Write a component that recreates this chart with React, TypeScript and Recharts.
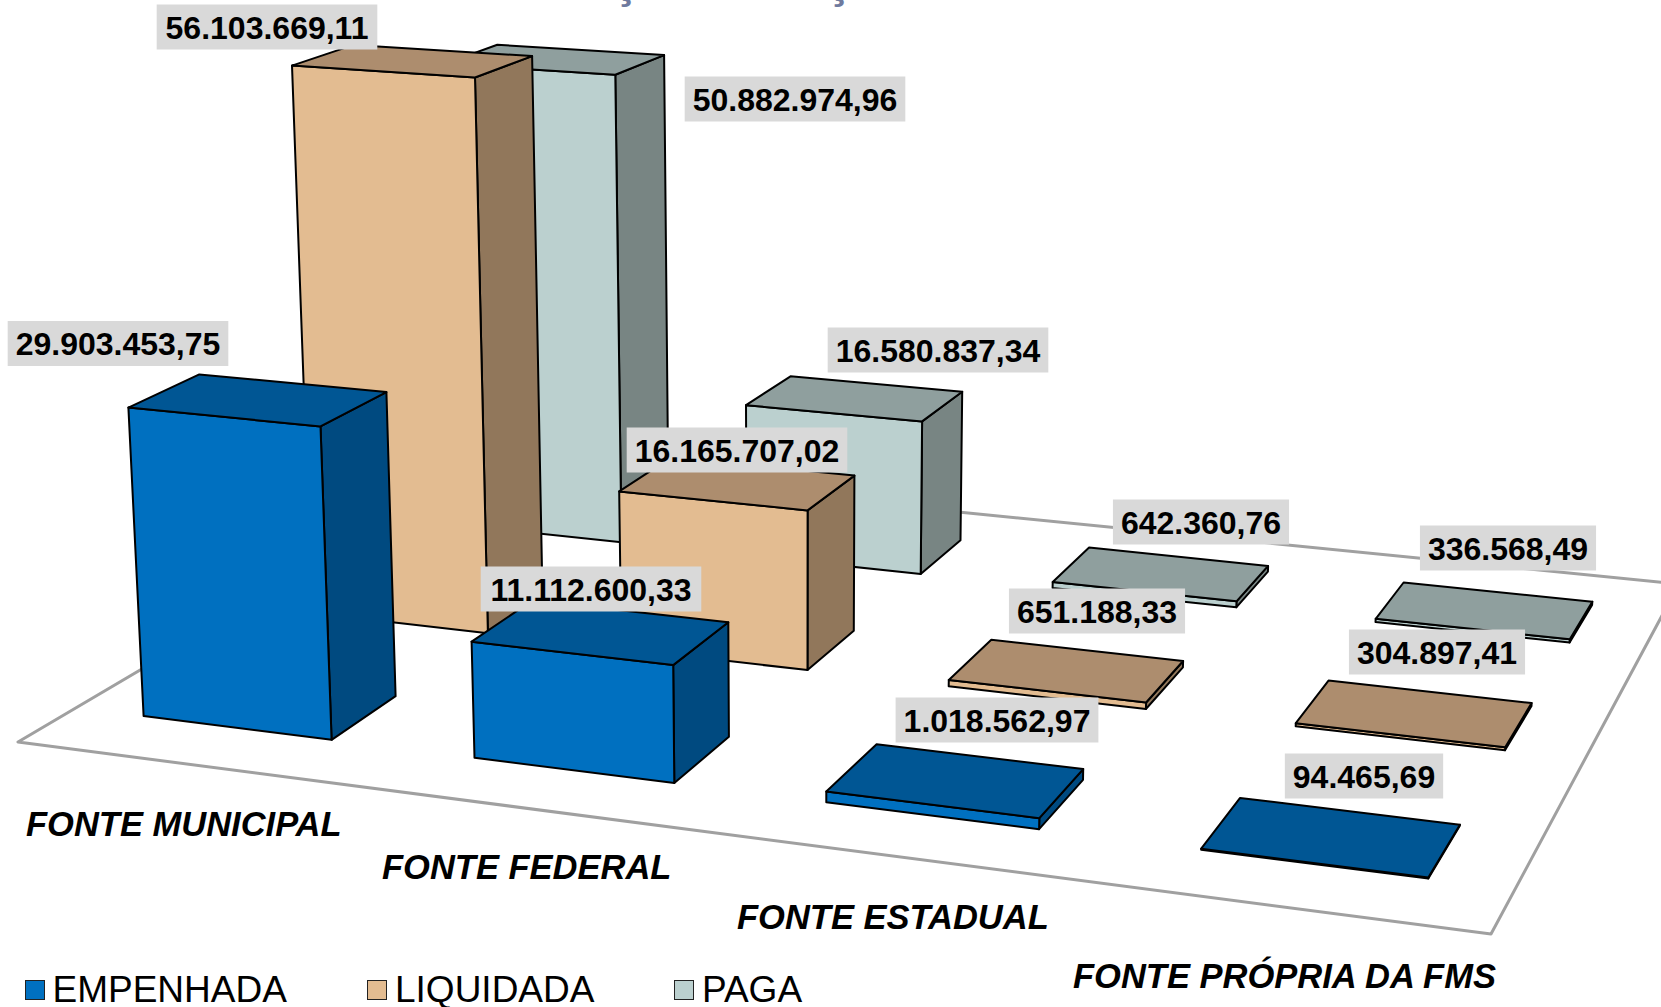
import { BarChart, Bar, XAxis, YAxis, Legend, LabelList, Customized } from "recharts";

const categories = ["FONTE MUNICIPAL", "FONTE FEDERAL", "FONTE ESTADUAL", "FONTE PRÓPRIA DA FMS"];
const empenhada = [29903453.75, 11112600.33, 1018562.97, 94465.69];
const liquidada = [56103669.11, 16165707.02, 651188.33, 304897.41];
const paga = [50882974.96, 16580837.34, 642360.76, 336568.49];

const rows = categories.map((name, i) => ({
  name,
  empenhada: empenhada[i],
  liquidada: liquidada[i],
  paga: paga[i],
}));

const W = 1661;
const H = 1007;
const FONT = "'Liberation Sans', Arial, sans-serif";

// floor corners as they sit on the picture: front-left, front-right, back-right, back-left
const FLOOR = [
  [18, 742],
  [1491, 934],
  [1679, 584],
  [488, 465],
];
// vertical lines converge to this point far below the page
const VANISH = [800, 14000];
const HEIGHT_K = 4.615e-5;
const DEPTH = 0.13;
const U_SHIFT = -0.0004;

function floorMatrix() {
  const [[x0, y0], [x1, y1], [x2, y2], [x3, y3]] = FLOOR;
  const dx1 = x1 - x2;
  const dx2 = x3 - x2;
  const sx = x0 - x1 + x2 - x3;
  const dy1 = y1 - y2;
  const dy2 = y3 - y2;
  const sy = y0 - y1 + y2 - y3;
  const det = dx1 * dy2 - dx2 * dy1;
  const g = (sx * dy2 - dx2 * sy) / det;
  const h = (dx1 * sy - sx * dy1) / det;
  return {
    a: x1 - x0 + g * x1,
    b: x3 - x0 + h * x3,
    c: x0,
    d: y1 - y0 + g * y1,
    e: y3 - y0 + h * y3,
    f: y0,
    g,
    h,
  };
}
const M = floorMatrix();

// u along the categories, v into the depth, z = bar height in px from the value axis
function project(u: number, v: number, z = 0) {
  const t = -z * HEIGHT_K;
  const w = M.g * u + M.h * v + 1 + t;
  const x = (M.a * u + M.b * v + M.c + t * VANISH[0]) / w;
  const y = (M.d * u + M.e * v + M.f + t * VANISH[1]) / w;
  return `${x.toFixed(1)},${y.toFixed(1)}`;
}

const palette = {
  empenhada: { front: "#0070C0", top: "#005694", side: "#004A80" },
  liquidada: { front: "#E3BC91", top: "#AD8D6E", side: "#91775B" },
  paga: { front: "#BBD0CF", top: "#8F9F9E", side: "#788583" },
};

function box(depthIndex: number, colors: { front: string; top: string; side: string }) {
  return (props: any) => {
    const { x, width, height } = props;
    const u0 = x / W + U_SHIFT;
    const u1 = (x + width) / W + U_SHIFT;
    const v0 = (depthIndex + 0.5) / 3 - DEPTH / 2;
    const v1 = v0 + DEPTH;
    const z = height;
    const edge = { stroke: "#000", strokeWidth: 2, strokeLinejoin: "round" as const };
    return (
      <g>
        <polygon
          points={[project(u1, v0, 0), project(u1, v1, 0), project(u1, v1, z), project(u1, v0, z)].join(" ")}
          fill={colors.side}
          {...edge}
        />
        <polygon
          points={[project(u0, v0, 0), project(u1, v0, 0), project(u1, v0, z), project(u0, v0, z)].join(" ")}
          fill={colors.front}
          {...edge}
        />
        <polygon
          points={[project(u0, v0, z), project(u1, v0, z), project(u1, v1, z), project(u0, v1, z)].join(" ")}
          fill={colors.top}
          {...edge}
        />
      </g>
    );
  };
}

// data labels were dragged by hand in the original, so their centres are listed per category
const labelSpots = {
  empenhada: [[118, 343.5], [591, 589], [997, 720], [1364, 776]],
  liquidada: [[267, 27], [737, 450], [1097, 611], [1437, 652]],
  paga: [[795, 99], [938, 350], [1201, 522], [1508, 548]],
};
const tickSpots = [[26, 836], [382, 879], [737, 929], [1073, 988]];

const money = (n: number) =>
  n.toLocaleString("pt-BR", { minimumFractionDigits: 2, maximumFractionDigits: 2 });

function valueLabel(spots: number[][]) {
  return (props: any) => {
    const { index, value } = props;
    const text = money(Number(value));
    const digits = text.replace(/[.,]/g, "").length;
    const boxW = (digits * 0.556 + (text.length - digits) * 0.278) * 32 + 16;
    const [cx, cy] = spots[index];
    return (
      <g>
        <rect x={cx - boxW / 2} y={cy - 22.5} width={boxW} height={45} fill="#D9D9D9" />
        <text x={cx} y={cy + 11.5} textAnchor="middle" fontFamily={FONT} fontWeight="bold" fontSize={32} fill="#000">
          {text}
        </text>
      </g>
    );
  };
}

function CategoryTick(props: any) {
  const { index, payload } = props;
  const [x, y] = tickSpots[index];
  return (
    <text x={x} y={y} fontFamily={FONT} fontWeight="bold" fontStyle="italic" fontSize={34.5} fill="#000">
      {payload.value}
    </text>
  );
}

function Backdrop() {
  return (
    <g>
      {/* only the cedilla tails of the cropped title are left in the picture */}
      <text x={625} y={-3} textAnchor="middle" fontFamily={FONT} fontWeight="bold" fontSize={46} fill="#6F7A9E">
        Ç
      </text>
      <text x={838} y={-3} textAnchor="middle" fontFamily={FONT} fontWeight="bold" fontSize={46} fill="#6F7A9E">
        Ç
      </text>
      <polygon
        points={FLOOR.map((p) => p.join(",")).join(" ")}
        fill="#fff"
        stroke="#A0A0A0"
        strokeWidth={3}
        strokeLinejoin="round"
      />
    </g>
  );
}

const legendSpots: Record<string, [number, number]> = {
  EMPENHADA: [25, 52.5],
  LIQUIDADA: [367, 395],
  PAGA: [674, 702],
};

function LegendRow(props: any) {
  const items = props.payload || [];
  return (
    <div style={{ position: "relative", height: 0, fontFamily: FONT, fontSize: 37, color: "#000" }}>
      {items.map((item: any) => {
        const [sx, tx] = legendSpots[item.value];
        return (
          <div key={item.value}>
            <span
              style={{
                position: "absolute",
                left: sx,
                top: 980,
                width: 18,
                height: 18,
                background: item.color,
                border: "1.5px solid #222",
              }}
            />
            <span style={{ position: "absolute", left: tx, top: 973, lineHeight: "34px", whiteSpace: "nowrap" }}>
              {item.value}
            </span>
          </div>
        );
      })}
    </div>
  );
}

export default function App() {
  return (
    <div style={{ position: "absolute", left: 0, top: 0, width: W, height: H, overflow: "hidden", background: "#fff" }}>
      <BarChart width={W} height={H} data={rows} margin={{ top: 0, right: 0, bottom: 0, left: 0 }} barCategoryGap="21.2%">
        <Customized component={Backdrop} />
        <XAxis
          xAxisId={0}
          dataKey="name"
          height={1}
          interval={0}
          axisLine={false}
          tickLine={false}
          tick={CategoryTick}
        />
        <XAxis xAxisId={1} dataKey="name" hide />
        <XAxis xAxisId={2} dataKey="name" hide />
        <YAxis hide domain={[0, 60000000]} />
        <Legend
          content={LegendRow}
          wrapperStyle={{ position: "absolute", left: 0, top: 0, width: W, height: 0, bottom: "auto" }}
        />
        <Bar
          xAxisId={2}
          dataKey="paga"
          name="PAGA"
          fill={palette.paga.front}
          isAnimationActive={false}
          shape={box(2, palette.paga)}
        >
          <LabelList dataKey="paga" content={valueLabel(labelSpots.paga)} />
        </Bar>
        <Bar
          xAxisId={1}
          dataKey="liquidada"
          name="LIQUIDADA"
          fill={palette.liquidada.front}
          isAnimationActive={false}
          shape={box(1, palette.liquidada)}
        >
          <LabelList dataKey="liquidada" content={valueLabel(labelSpots.liquidada)} />
        </Bar>
        <Bar
          xAxisId={0}
          dataKey="empenhada"
          name="EMPENHADA"
          fill={palette.empenhada.front}
          isAnimationActive={false}
          shape={box(0, palette.empenhada)}
        >
          <LabelList dataKey="empenhada" content={valueLabel(labelSpots.empenhada)} />
        </Bar>
      </BarChart>
    </div>
  );
}
